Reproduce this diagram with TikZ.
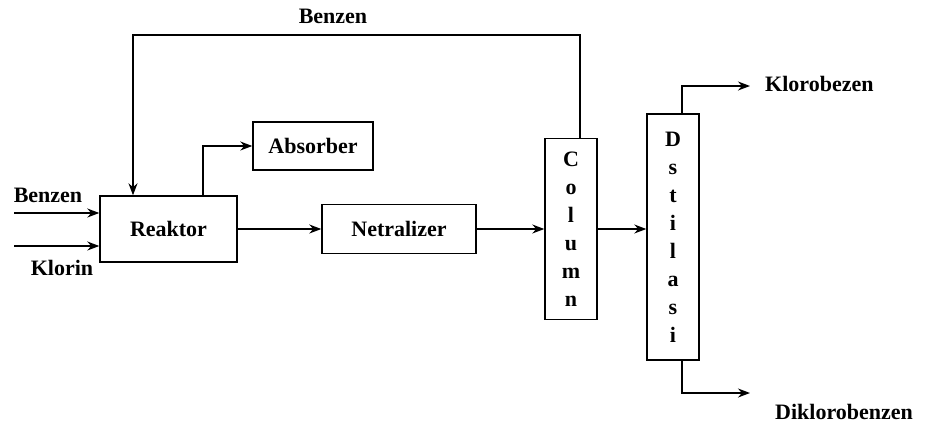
\documentclass[tikz,border=0pt]{standalone}
\usepackage{fontspec}
\setmainfont{Liberation Serif}
\usetikzlibrary{arrows.meta}
\begin{document}
\begin{tikzpicture}[x=1pt,y=-1pt,
  blk/.style={draw,line width=1.4pt,inner sep=0pt,font=\bfseries\fontsize{22}{26}\selectfont},
  tall/.style={draw,line width=1.4pt,inner sep=0pt,align=center,font=\bfseries\fontsize{22}{28}\selectfont},
  lbl/.style={inner sep=0pt,font=\bfseries\fontsize{22}{26}\selectfont},
  arr/.style={line width=1.4pt,-{Stealth[length=12pt,width=9pt]}},
  ln/.style={line width=1.4pt}]
\useasboundingbox (0,0) rectangle (937,424);
\node[blk,minimum width=137pt,minimum height=66pt] (reaktor) at (168.5,229) {Reaktor};
\node[blk,minimum width=120pt,minimum height=48pt] (absorber) at (313,146) {Absorber};
\node[blk,minimum width=154pt,minimum height=49pt] (netralizer) at (399,229) {Netralizer};
\node[tall,minimum width=52pt,minimum height=181pt] (column) at (571,229) {C\\o\\l\\u\\m\\n};
\node[tall,minimum width=52pt,minimum height=246pt] (distilasi) at (673,237) {D\\s\\t\\i\\l\\a\\s\\i};
% labels
\node[lbl] (lbenzen) at (48,195) {Benzen};
\node[lbl] (lklorin) at (62,268) {Klorin};
\node[lbl] (ltop) at (333,16) {Benzen};
\node[lbl,anchor=west] (lkloro) at (765,84) {Klorobezen};
\node[lbl,anchor=west] (ldikloro) at (775,412) {Diklorobenzen};
% coordinates
\coordinate (inb) at (14,213);
\coordinate (ink) at (14,246);
\coordinate (rtop) at (203,196);
\coordinate (ctop) at (580,138);
\coordinate (rec) at (133,35);
\coordinate (dtop) at (682,114);
\coordinate (dbot) at (682,360);
\coordinate (kend) at (750,86);
\coordinate (dend) at (750,393);
% connectors
\draw[arr] (inb) -- (inb -| reaktor.west);
\draw[arr] (ink) -- (ink -| reaktor.west);
\draw[arr] (rtop) |- (absorber.west);
\draw[arr] (reaktor.east) -- (reaktor.east -| netralizer.west);
\draw[arr] (netralizer.east) -- (netralizer.east -| column.west);
\draw[arr] (column.east) -- (column.east -| distilasi.west);
\draw[arr] (ctop) -- (ctop |- rec) -- (rec) -- (rec |- reaktor.north);
\draw[arr] (dtop) |- (kend);
\draw[arr] (dbot) |- (dend);
\end{tikzpicture}
\end{document}
